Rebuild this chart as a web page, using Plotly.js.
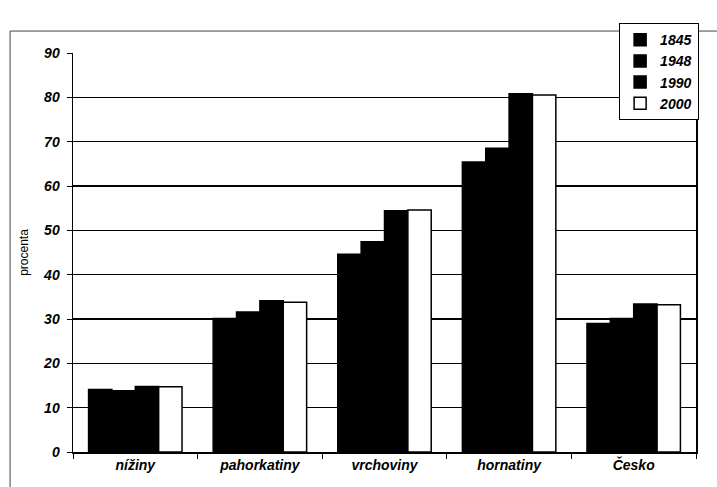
<!DOCTYPE html>
<html>
<head>
<meta charset="utf-8">
<script src="https://cdn.plot.ly/plotly-3.0.1.min.js"></script>
<style>
html,body{margin:0;padding:0;background:#fff;}
#chart{width:717px;height:487px;}
</style>
</head>
<body>
<div id="chart"></div>
<script>
const categories = ["nížiny", "pahorkatiny", "vrchoviny", "hornatiny", "Česko"];
const years = ["1845", "1948", "1990", "2000"];
const v1845 = [14.1, 30.1, 44.6, 65.4, 29.0];
const v1948 = [13.8, 31.6, 47.4, 68.5, 30.1];
const v1990 = [14.8, 34.1, 54.4, 80.8, 33.4];
const v2000 = [14.7, 33.8, 54.6, 80.5, 33.2];
const yTicks = [0, 10, 20, 30, 40, 50, 60, 70, 80, 90];

const series = [v1845, v1948, v1990, v2000];
const fills = ["#000000", "#000000", "#000000", "#ffffff"];
const font = "Liberation Sans, Arial, sans-serif";

const traces = series.map((vals, i) => ({
  type: "bar",
  name: years[i],
  x: categories,
  y: vals,
  legendgroup: years[i],
  marker: {color: fills[i], line: {color: "#000", width: 1.5}},
  hoverinfo: "x+y+name"
}));

const layout = {
  width: 717, height: 487,
  margin: {l: 73, r: 21, t: 53, b: 35, autoexpand: false},
  paper_bgcolor: "#fff", plot_bgcolor: "#fff",
  barmode: "group", bargap: 0.25, bargroupgap: 0,
  font: {family: font, color: "#000"},
  xaxis: {
    type: "category",
    tickson: "boundaries",
    ticks: "outside", ticklen: 5, tickcolor: "#000", tickwidth: 1,
    showline: true, linecolor: "#000", linewidth: 1.5,
    showgrid: false,
    tickfont: {family: font, size: 14, weight: "bold", style: "italic", color: "#000"}
  },
  yaxis: {
    range: [0, 90], tickvals: yTicks, ticktext: yTicks.map(String),
    ticks: "outside", ticklen: 5, tickcolor: "#000", tickwidth: 1,
    ticklabelstandoff: 4,
    showline: true, linecolor: "#000", linewidth: 1.5, mirror: true,
    showgrid: true, gridcolor: "#000", gridwidth: 1.2,
    zeroline: false,
    tickfont: {family: font, size: 14, weight: "bold", style: "italic", color: "#000"},
    title: {text: "procenta", font: {family: font, size: 12, color: "#000"}, standoff: 12}
  },
  legend: {
    x: 1.005, y: 1.075, xanchor: "right", yanchor: "top",
    bgcolor: "#fff", bordercolor: "#000", borderwidth: 1,
    tracegroupgap: 1, traceorder: "normal", itemwidth: 30,
    font: {family: font, size: 14, weight: "bold", style: "italic", color: "#000"}
  },
  shapes: [{
    type: "path", xref: "paper", yref: "paper",
    path: "M -0.101 -0.3 L -0.101 1.055 L 1.2 1.055",
    line: {color: "#444", width: 1}
  }],
  showlegend: true
};

Plotly.newPlot("chart", traces, layout, {displayModeBar: false, staticPlot: true});
</script>
</body>
</html>
